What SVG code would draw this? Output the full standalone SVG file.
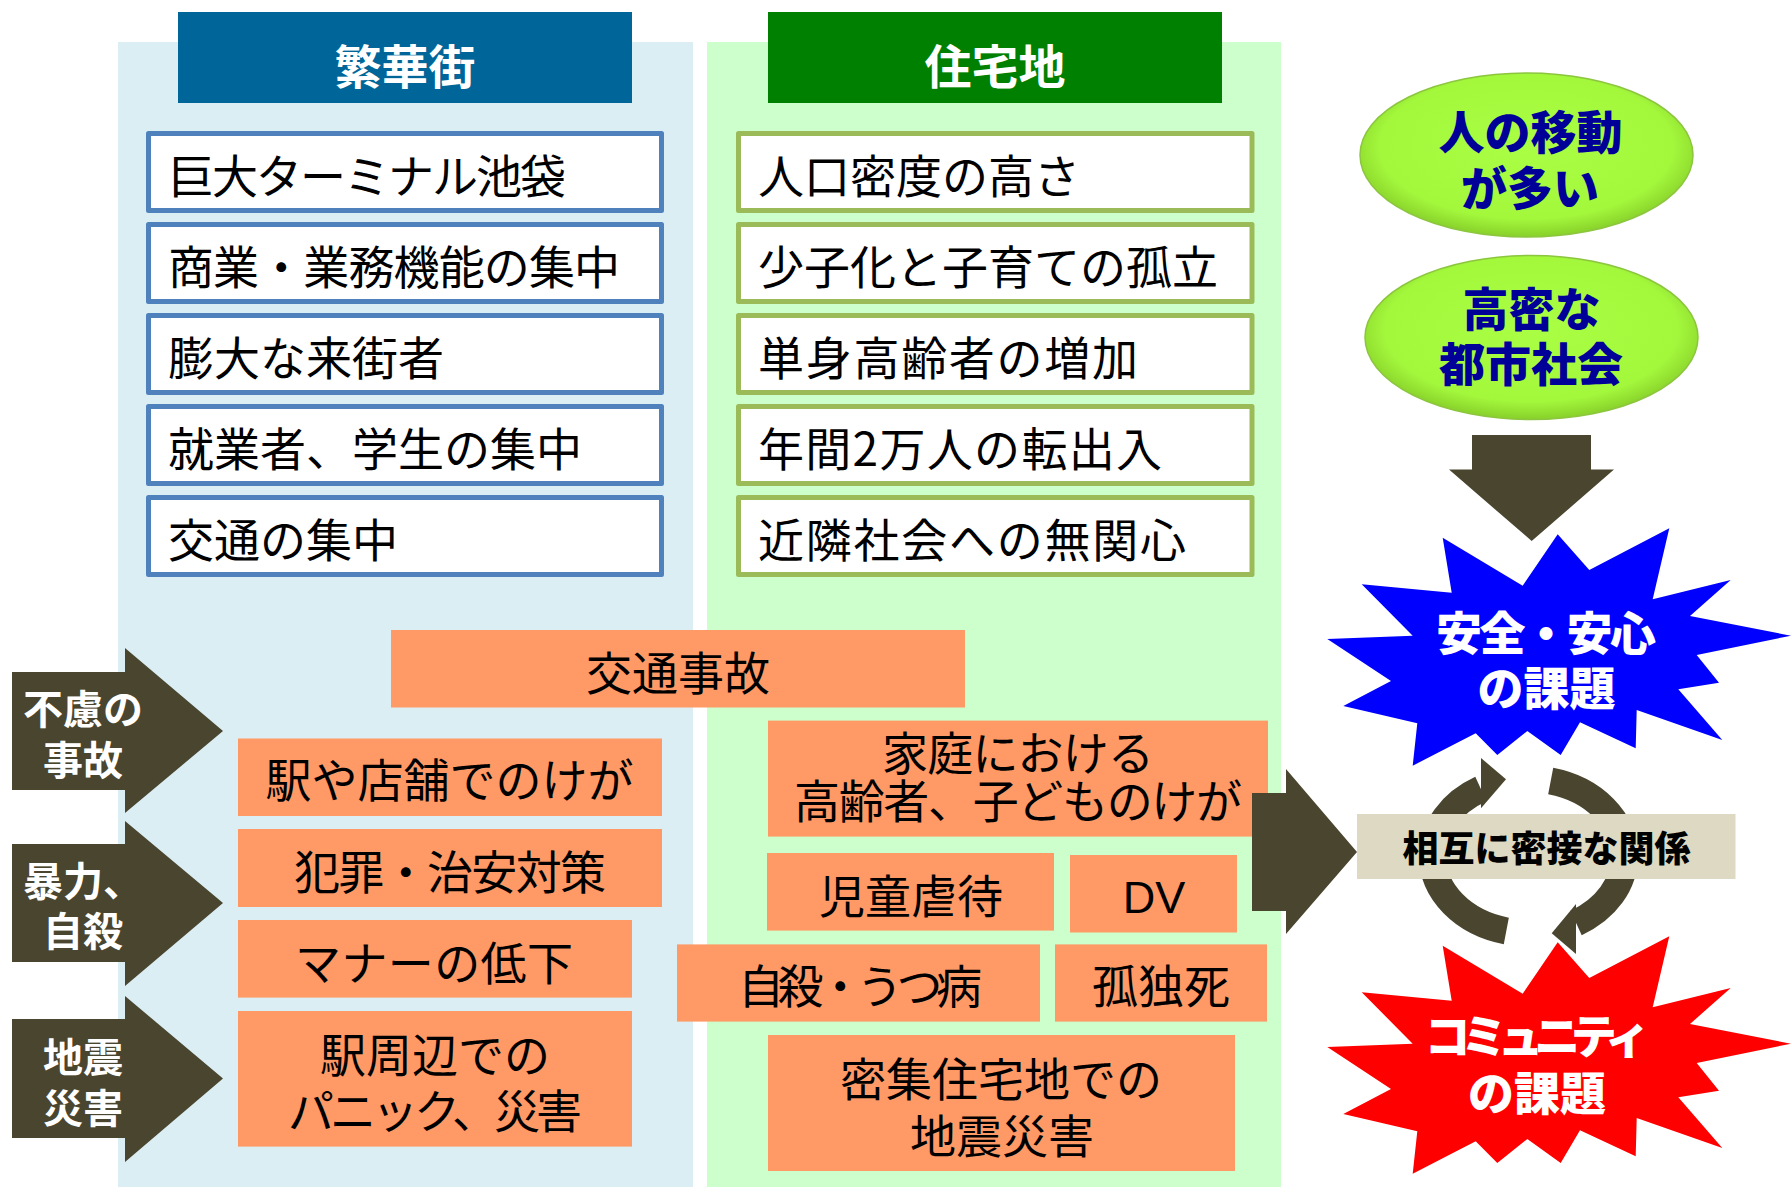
<svg xmlns="http://www.w3.org/2000/svg" width="1791" height="1187" viewBox="0 0 1791 1187">
<defs>
<style>
.t{font-family:"Noto Sans CJK JP","Noto Sans CJK SC",sans-serif;font-size:46px;fill:#000}
.c{text-anchor:middle}
.h{font-weight:700;fill:#fff;font-size:47px}
.bb{fill:#fff;stroke:#4F81BD;stroke-width:5;stroke-linejoin:round}
.gb{fill:#fff;stroke:#9BBB59;stroke-width:5;stroke-linejoin:round}
.or{fill:#FF9966}
.ar{fill:#4A452F}
.at{font-weight:700;fill:#fff;font-size:40px}
.et{font-weight:900;fill:#000099}
.wt{font-weight:900;fill:#fff}
.arc{fill:none;stroke:#4A452F;stroke-width:27}
</style>
<radialGradient id="lime" cx="0.5" cy="0.45" r="0.55">
<stop offset="0" stop-color="#AAFF44"/>
<stop offset="0.8" stop-color="#A3F83C"/>
<stop offset="1" stop-color="#88D02A"/>
</radialGradient>
<polygon id="star" points="1327.3,639 1412.7,635.7 1361.7,584.3 1451.7,592.7 1442.7,537.7 1522.7,585.7 1557.7,534.3 1589.3,570 1669.3,528.3 1652.7,599.3 1730.7,580 1690,616 1791,635.7 1696.7,655 1719,682.7 1678.3,689.3 1722.3,740 1636.7,710 1635.7,748.3 1580,722.3 1560.7,755 1527.3,731 1497.3,755 1475.7,733.3 1412.7,765.7 1417.3,723.3 1343.3,706 1391,681"/>
</defs>
<rect width="1791" height="1187" fill="#fff"/>

<g id="panel-hankagai">
<rect x="118" y="42" width="575" height="1145" fill="#DAEEF3"/>
<rect x="178" y="12" width="454" height="91" fill="#006699"/>
<text class="t c h" x="405" y="84">繁華街</text>
</g>
<g id="panel-jutakuchi">
<rect x="707" y="42" width="574" height="1145" fill="#CCFFCC"/>
<rect x="768" y="12" width="454" height="91" fill="#008000"/>
<text class="t c h" x="995" y="84">住宅地</text>
</g>

<g id="b1"><rect class="bb" x="148.5" y="133.5" width="513" height="77"/><text class="t" x="168" y="193" textLength="398">巨大ターミナル池袋</text></g>
<g id="b2"><rect class="bb" x="148.5" y="224.5" width="513" height="77"/><text class="t" x="168" y="284" textLength="452">商業・業務機能の集中</text></g>
<g id="b3"><rect class="bb" x="148.5" y="315.5" width="513" height="77"/><text class="t" x="168" y="375">膨大な来街者</text></g>
<g id="b4"><rect class="bb" x="148.5" y="406.5" width="513" height="77"/><text class="t" x="168" y="466">就業者、学生の集中</text></g>
<g id="b5"><rect class="bb" x="148.5" y="497.5" width="513" height="77"/><text class="t" x="168" y="557">交通の集中</text></g>

<g id="g1"><rect class="gb" x="738.5" y="133.5" width="513.5" height="77"/><text class="t" x="758" y="193">人口密度の高さ</text></g>
<g id="g2"><rect class="gb" x="738.5" y="224.5" width="513.5" height="77"/><text class="t" x="758" y="284">少子化と子育ての孤立</text></g>
<g id="g3"><rect class="gb" x="738.5" y="315.5" width="513.5" height="77"/><text class="t" x="758" y="375" textLength="380">単身高齢者の増加</text></g>
<g id="g4"><rect class="gb" x="738.5" y="406.5" width="513.5" height="77"/><text class="t" x="758" y="466" textLength="404">年間2万人の転出入</text></g>
<g id="g5"><rect class="gb" x="738.5" y="497.5" width="513.5" height="77"/><text class="t" x="758" y="557" textLength="428">近隣社会への無関心</text></g>

<g id="o-kotsujiko"><rect class="or" x="391" y="630" width="574" height="77.5"/><text class="t c" x="678" y="689.5">交通事故</text></g>
<g id="o-eki"><rect class="or" x="238" y="738.5" width="424" height="77.5"/><text class="t c" x="449.5" y="797">駅や店舗でのけが</text></g>
<g id="o-hanzai"><rect class="or" x="238" y="829" width="424" height="78"/><text class="t c" x="450" y="888.5" textLength="312">犯罪・治安対策</text></g>
<g id="o-manner"><rect class="or" x="238" y="920" width="394" height="77.6"/><text class="t c" x="434" y="979.5" textLength="278">マナーの低下</text></g>
<g id="o-panic"><rect class="or" x="238" y="1011" width="394" height="135.6"/><text class="t c"><tspan x="435" y="1071.5">駅周辺での</tspan><tspan x="435" y="1127.5" textLength="294">パニック、災害</tspan></text></g>

<g id="o-katei"><rect class="or" x="768" y="720.6" width="500" height="116"/><text class="t c"><tspan x="1018" y="770" textLength="272">家庭における</tspan><tspan x="1018" y="817.5" textLength="448">高齢者、子どものけが</tspan></text></g>
<g id="o-gyakutai"><rect class="or" x="767" y="853" width="287" height="77.6"/><text class="t c" x="911" y="913">児童虐待</text></g>
<g id="o-dv"><rect class="or" x="1070" y="855" width="167" height="77.5"/><text class="c" x="1154" y="912.6" style="font-family:'Liberation Sans',Arial,sans-serif;font-size:45px">DV</text></g>
<g id="o-jisatsu"><rect class="or" x="677" y="944.4" width="363" height="77.2"/><text class="t c" x="860" y="1003" textLength="244">自殺・うつ病</text></g>
<g id="o-kodokushi"><rect class="or" x="1055" y="944.4" width="212" height="77.2"/><text class="t c" x="1161" y="1003">孤独死</text></g>
<g id="o-missyu"><rect class="or" x="768" y="1035" width="467" height="136"/><text class="t c"><tspan x="1001" y="1095.5">密集住宅地での</tspan><tspan x="1002" y="1153">地震災害</tspan></text></g>

<g id="a-furyo"><polygon class="ar" points="12,672 125,672 125,648 223,731 125,813 125,790 12,790"/><text class="t c at"><tspan x="83" y="724">不慮の</tspan><tspan x="83" y="775">事故</tspan></text></g>
<g id="a-boryoku"><polygon class="ar" points="12,844 125,844 125,821 223,903 125,986 125,962 12,962"/><text class="t c at"><tspan x="83" y="896">暴力、</tspan><tspan x="83" y="946">自殺</tspan></text></g>
<g id="a-jishin"><polygon class="ar" points="12,1019 125,1019 125,996 223,1078.5 125,1162 125,1138 12,1138"/><text class="t c at"><tspan x="83" y="1072">地震</tspan><tspan x="83" y="1123">災害</tspan></text></g>

<g id="e-ido"><ellipse cx="1526.5" cy="155" rx="166.5" ry="82" fill="url(#lime)" stroke="#8CC63F" stroke-width="1.5"/><text class="t c et"><tspan x="1530.5" y="149">人の移動</tspan><tspan x="1530" y="204.5">が多い</tspan></text></g>
<g id="e-komitsu"><ellipse cx="1531.5" cy="337.5" rx="166.5" ry="82" fill="url(#lime)" stroke="#8CC63F" stroke-width="1.5"/><text class="t c et"><tspan x="1531.5" y="325.5">高密な</tspan><tspan x="1531" y="381">都市社会</tspan></text></g>

<g id="s-anzen"><use href="#star" fill="#0000FF"/><text class="t c wt"><tspan x="1546" y="650" textLength="220">安全・安心</tspan><tspan x="1546.5" y="704.5">の課題</tspan></text></g>
<g id="s-community"><use href="#star" fill="#FF0000" transform="translate(0,408)"/><text class="t c wt"><tspan x="1537.5" y="1052.5" textLength="226">コミュニティ</tspan><tspan x="1537" y="1110">の課題</tspan></text></g>

<g id="connectors">
<polygon class="ar" points="1472,435 1591,435 1591,469.6 1614,469.6 1531.7,541 1449,469.6 1472,469.6"/>
<polygon class="ar" points="1252,793 1286,793 1286,769 1357,852 1286,934 1286,911 1252,911"/>
<path class="arc" d="M1432.5,856 A96,77 0 0 1 1480.9,789.1"/>
<polygon class="ar" points="1481,758 1506,779.3 1481,808.3"/>
<path class="arc" d="M1550.7,781.1 A96,77 0 0 1 1624.5,856"/>
<path class="arc" d="M1624.5,856 A96,77 0 0 1 1576.1,922.9"/>
<polygon class="ar" points="1576,954 1551.7,933.3 1576,904"/>
<path class="arc" d="M1506.3,930.9 A96,77 0 0 1 1432.5,856"/>
</g>

<g id="kankei"><rect x="1357" y="814" width="378.5" height="65" fill="#DDD9C3"/><text class="t c" x="1546.5" y="862" style="font-size:36px;font-weight:900">相互に密接な関係</text></g>
</svg>
